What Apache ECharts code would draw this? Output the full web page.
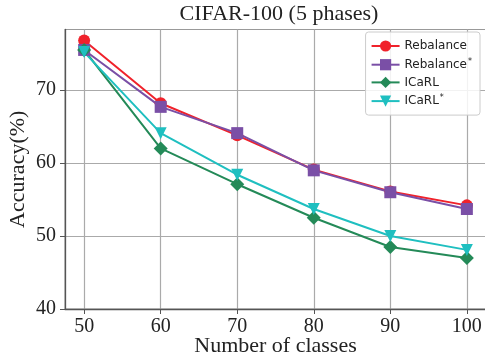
<!DOCTYPE html>
<html>
<head>
<meta charset="utf-8">
<script src="https://cdn.jsdelivr.net/npm/echarts@6/dist/echarts.min.js"></script>
<style>html,body{margin:0;padding:0;background:#fff}#c{width:485px;height:360px}</style>
</head>
<body>
<div id="c"></div>
<script>
var classes = [50, 60, 70, 80, 90, 100];
var rebalance = [76.8, 68.2, 63.8, 59.1, 56.1, 54.2];
var rebalanceStar = [75.5, 67.7, 64.1, 59.0, 56.0, 53.7];
var icarl = [75.5, 62.0, 57.1, 52.5, 48.5, 47.0];
var icarlStar = [75.2, 64.1, 58.4, 53.7, 50.0, 48.1];
var xTicks = [50, 60, 70, 80, 90, 100];
var yTicks = [40, 50, 60, 70];

function pairs(ys) { return classes.map(function (x, i) { return [x, ys[i]]; }); }

var serif = 'Liberation Serif';
var chart = echarts.init(document.getElementById('c'), null, {renderer: 'canvas'});
function mk(name, data, color, symbol, size, rot) {
  return {
    name: name, type: 'line', data: pairs(data), symbol: symbol, symbolSize: size,
    symbolRotate: rot || 0,
    lineStyle: {color: color, width: 2}, itemStyle: {color: color}, color: color,
    showAllSymbol: true, animation: false
  };
}
chart.setOption({
  animation: false,
  title: {
    text: 'CIFAR-100 (5 phases)', left: 274, top: -2, textAlign: 'center',
    textStyle: {fontFamily: serif, fontSize: 22, fontWeight: 'normal', color: '#222'}
  },
  grid: {left: 65, right: -1, top: 29.5, bottom: 51, show: true, borderColor: '#999', borderWidth: 1.2,
         containLabel: false, outerBoundsMode: 'none'},
  legend: {
    orient: 'vertical', right: 5, top: 32, itemWidth: 28, itemHeight: 14, itemGap: 5.7,
    padding: [8, 8, 8, 5], borderColor: '#ccc', borderWidth: 1, borderRadius: 3,
    backgroundColor: 'rgba(255,255,255,0.85)',
    data: ['Rebalance', 'Rebalance*', 'ICaRL', 'ICaRL*'],
    formatter: function (n) {
      if (n.slice(-1) === '*') return '{a|' + n.slice(0, -1) + '}{s|*}';
      return '{a|' + n + '}';
    },
    textStyle: {
      fontFamily: 'DejaVu Sans', fontSize: 12, color: '#222',
      rich: {
        a: {fontFamily: 'DejaVu Sans', fontSize: 12, color: '#222'},
        s: {fontFamily: 'DejaVu Sans', fontSize: 8, color: '#222', verticalAlign: 'top', padding: [0, 0, 6, 1]}
      }
    }
  },
  xAxis: {
    type: 'value', min: 47.5, max: 102.5,
    name: 'Number of classes', nameLocation: 'middle', nameGap: 26, nameMoveOverlap: false,
    nameTextStyle: {fontFamily: serif, fontSize: 22, color: '#222'},
    axisLine: {show: true, onZero: false, lineStyle: {color: '#555', width: 1.3}},
    axisTick: {show: true, customValues: xTicks, length: 5, lineStyle: {color: '#555'}},
    axisLabel: {customValues: xTicks, fontFamily: serif, fontSize: 20, color: '#222', margin: 8},
    splitLine: {show: true, lineStyle: {color: '#aaa', width: 1.2}}
  },
  yAxis: {
    type: 'value', min: 40, max: 78.3,
    name: 'Accuracy(%)', nameLocation: 'middle', nameGap: 36, nameRotate: 90, nameMoveOverlap: false,
    nameTextStyle: {fontFamily: serif, fontSize: 22, color: '#222'},
    axisLine: {show: true, onZero: false, lineStyle: {color: '#555', width: 1.3}},
    axisTick: {show: true, customValues: yTicks, length: 5, lineStyle: {color: '#555'}},
    axisLabel: {customValues: yTicks, fontFamily: serif, fontSize: 20, color: '#222', margin: 9},
    splitLine: {show: true, lineStyle: {color: '#aaa', width: 1.2}}
  },
  series: [
    mk('Rebalance', rebalance, '#f0222b', 'circle', 12),
    mk('Rebalance*', rebalanceStar, '#7a4fa6', 'rect', 12),
    mk('ICaRL', icarl, '#248a58', 'diamond', 14),
    mk('ICaRL*', icarlStar, '#1fbfc0', 'triangle', 12, 180)
  ]
});
</script>
</body>
</html>
